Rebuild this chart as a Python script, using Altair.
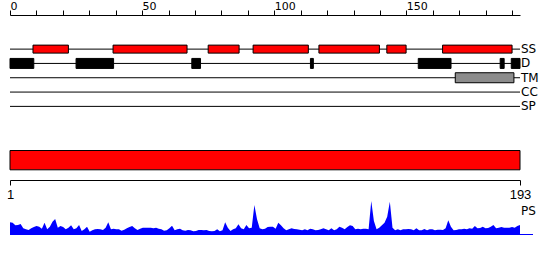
import altair as alt
import pandas as pd

seq_len = 193
tracks = ["SS", "D", "TM", "CC", "SP"]

ss_start = [8.7, 39, 75, 92, 116.9, 142.6, 163.7]
ss_end = [22.1, 67, 86.7, 112.9, 139.8, 149.9, 190]
d_start = [0, 25, 68.8, 113.7, 154.5, 185.5, 189.7]
d_end = [9, 39.2, 72.1, 114.8, 166.9, 187, 193]
tm_start = [168.5]
tm_end = [190.7]

ps_values = [
    38, 37, 29, 30, 33, 20, 17, 15, 20, 24,
    27, 25, 19, 37, 17, 25, 40, 48, 22, 27,
    24, 17, 22, 29, 17, 20, 30, 12, 17, 25,
    10, 14, 17, 18, 17, 15, 22, 38, 17, 19,
    17, 17, 13, 16, 20, 24, 27, 20, 15, 19,
    22, 22, 22, 22, 20, 22, 19, 17, 13, 14,
    20, 28, 14, 17, 19, 14, 13, 15, 14, 11,
    12, 15, 15, 14, 15, 12, 11, 12, 17, 11,
    14, 38, 22, 12, 17, 20, 32, 20, 17, 30,
    20, 22, 90, 47, 20, 17, 19, 24, 25, 25,
    19, 37, 29, 20, 14, 17, 20, 18, 17, 16,
    14, 17, 14, 19, 17, 14, 15, 17, 20, 17,
    14, 20, 14, 17, 25, 22, 17, 24, 29, 27,
    17, 19, 17, 19, 19, 17, 102, 42, 17, 22,
    29, 37, 55, 100, 22, 14, 17, 14, 17, 17,
    18, 17, 14, 20, 14, 14, 18, 14, 17, 17,
    14, 16, 16, 15, 20, 44, 25, 14, 15, 17,
    17, 19, 17, 20, 19, 27, 20, 21, 25, 20,
    21, 25, 30, 20, 22, 24, 22, 22, 22, 24,
    22, 27, 30,
]
residues = list(range(1, seq_len + 1))

track_df = pd.DataFrame({"track": tracks, "row": list(range(len(tracks))),
                         "start": [0] * len(tracks), "end": [seq_len] * len(tracks)})
ss_df = pd.DataFrame({"start": ss_start, "end": ss_end, "row": 0})
d_df = pd.DataFrame({"start": d_start, "end": d_end, "row": 1})
tm_df = pd.DataFrame({"start": tm_start, "end": tm_end, "row": 2})
full_df = pd.DataFrame({"start": [1], "end": [seq_len]})
ps_df = pd.DataFrame({"residue": residues, "ps": ps_values})

FONT = "DejaVu Sans"

xs_top = alt.Scale(domain=[0, seq_len], nice=False, zero=False)
ys_track = alt.Scale(domain=[-2.0333, 12.6333], reverse=True, nice=False, zero=False)
xs_res = alt.Scale(domain=[1, seq_len], nice=False, zero=False)
ys_ps = alt.Scale(domain=[0, 105], range=[220, 185], nice=False, zero=False)

top_axis = alt.Axis(
    orient="top", values=list(range(0, 191, 10)),
    labelExpr="datum.value % 50 == 0 ? datum.label : ''",
    tickSize=5, labelPadding=1, labelAlign="left", labelBaseline="alphabetic",
    labelFontSize=11, labelFont=FONT, labelColor="black",
    domainColor="black", tickColor="black", grid=False, title=None,
    labelFlush=False, labelOverlap=False,
)
res_axis = alt.Axis(
    orient="bottom", values=[1, seq_len], offset=-55,
    tickSize=5, labelPadding=3, labelAlign="center", labelBaseline="top",
    labelFontSize=13, labelFont="Liberation Sans", labelColor="black",
    domainColor="black", tickColor="black", grid=False, title=None,
    labelFlush=False, labelOverlap=False,
)

x_top = alt.X("start:Q", scale=xs_top, axis=top_axis)
y_row = alt.Y("row:Q", scale=ys_track, axis=None)

lines = alt.Chart(track_df).mark_rule(color="black", strokeWidth=1).encode(
    x=x_top, x2="end:Q", y=y_row)
ss = alt.Chart(ss_df).mark_bar(orient="horizontal", size=8, color="#ff0000",
                               stroke="black", strokeWidth=1).encode(
    x=x_top, x2="end:Q", y=y_row)
dd = alt.Chart(d_df).mark_bar(orient="horizontal", size=10, color="black",
                              stroke="black", strokeWidth=1).encode(
    x=x_top, x2="end:Q", y=y_row)
tm = alt.Chart(tm_df).mark_bar(orient="horizontal", size=10, color="#8c8c8c",
                               stroke="black", strokeWidth=1).encode(
    x=x_top, x2="end:Q", y=y_row)
labels = alt.Chart(track_df).mark_text(align="left", baseline="middle", dx=1,
                                       fontSize=12, font=FONT, color="black").encode(
    x=alt.X("end:Q", scale=xs_top, axis=top_axis), y=y_row, text="track:N")
layer_a = alt.layer(lines, ss, dd, tm, labels)

full_bar = alt.Chart(full_df).mark_rect(color="#ff0000", stroke="black", strokeWidth=1).encode(
    x=alt.X("start:Q", scale=xs_res, axis=res_axis), x2="end:Q",
    y=alt.value(135.5), y2=alt.value(154.8))

area = alt.Chart(ps_df).mark_area(color="#0000ff", interpolate="linear").encode(
    x=alt.X("residue:Q", scale=xs_res, axis=None),
    y=alt.Y("ps:Q", scale=ys_ps, axis=None))
base_line = alt.Chart(full_df).mark_rule(color="#0000ff", strokeWidth=1).encode(
    x=alt.X("start:Q", scale=xs_res, axis=None), x2=alt.value(523), y=alt.value(219.5))
ps_label = alt.Chart(full_df).mark_text(align="left", baseline="middle", dx=1,
                                        fontSize=12, font=FONT, color="black").encode(
    x=alt.X("end:Q", scale=xs_res, axis=None), y=alt.value(195.5), text=alt.value("PS"))
layer_c = alt.layer(area, base_line, ps_label)

chart = alt.layer(layer_a, full_bar, layer_c).resolve_scale(
    x="independent", y="independent"
).properties(
    width=510, height=220,
    autosize=alt.AutoSizeParams(type="none"),
    padding={"left": 10, "top": 15, "right": 30, "bottom": 25},
).configure_view(stroke=None)

chart.save("out.html", embed_options={"renderer": "svg", "actions": False})
